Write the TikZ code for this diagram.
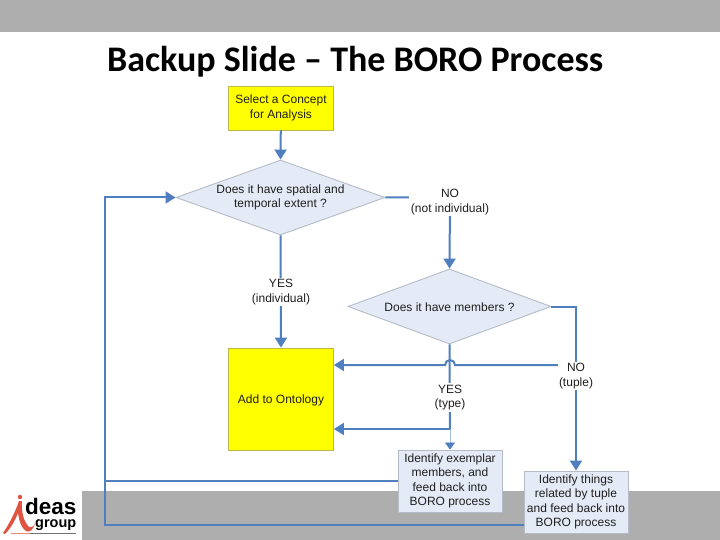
\documentclass[tikz,border=0pt]{standalone}
\usepackage{fontspec}
\setmainfont{Liberation Sans}
\newfontfamily\titlefont{Carlito}
\usetikzlibrary{arrows.meta,calc,shapes.geometric}
\definecolor{barg}{HTML}{AEAEAE}
\definecolor{flow}{HTML}{4F7FBF}
\definecolor{pale}{HTML}{E4EBF6}
\definecolor{edgeg}{HTML}{B4BCC8}
\definecolor{ybox}{HTML}{FFFF00}
\definecolor{yedge}{HTML}{BDB84A}
\definecolor{lred}{HTML}{D8361E}
\tikzset{
  x=1pt,y=-1pt,
  every node/.style={font=\fontsize{12}{14.4}\selectfont,align=center,text=black!88},
  lowered/.style={execute at begin node={\rule{0pt}{11pt}}},
  lowermore/.style={execute at begin node={\rule{0pt}{13.5pt}}},
  yellowbox/.style={draw=yedge,line width=.8pt,fill=ybox,inner sep=0pt},
  palebox/.style={draw=edgeg,line width=.9pt,fill=pale,inner sep=0pt},
  decision/.style={palebox,diamond,aspect=2.8,inner xsep=-6pt},
  link/.style={draw=flow,line width=2pt},
  linkarrow/.style={link,-{Triangle[length=10pt,width=12pt]}},
  lab/.style={fill=white,inner sep=1.5pt},
}
\begin{document}
\begin{tikzpicture}
\useasboundingbox (0,0) rectangle (720,540);
\fill[white] (0,0) rectangle (720,540);
\fill[barg] (0,0) rectangle (720,32);
\fill[barg] (82,491) rectangle (720,540);
\node[font=\titlefont\fontsize{36}{40}\selectfont\bfseries,text=black,anchor=base west,inner sep=0pt] (title) at (107,72) {Backup Slide – The BORO Process};
% nodes
\node[yellowbox,lowermore,minimum width=105pt,minimum height=44pt] (sel) at (281,108) {Select a Concept\\for Analysis};
\node[decision,lowermore,minimum width=209pt,minimum height=75pt] (d1) at (280.5,197.5) {Does it have spatial and\\temporal extent ?};
\node[decision,lowered,minimum width=203pt,minimum height=75pt] (d2) at (449.5,306.5) {Does it have members ?};
\node[yellowbox,lowered,minimum width=105pt,minimum height=102pt] (add) at (281,399) {Add to Ontology};
\node[palebox,lowermore,minimum width=104pt,minimum height=62pt] (ex) at (450,481) {Identify exemplar\\members, and\\feed back into\\BORO process};
\node[palebox,lowermore,minimum width=104pt,minimum height=62pt] (tup) at (576,502) {Identify things\\related by tuple\\and feed back into\\BORO process};
\coordinate (tupw) at (524,525);
\coordinate (fbc) at (105,525);
\coordinate (fba) at (105,481);
\coordinate (fbt) at (105,197.5);
\coordinate (noj) at (576,365);
\coordinate (nor) at (450,197.5);
\coordinate (d2r) at (576,306.5);
\coordinate (yj) at (450,429);
% connectors
\draw[linkarrow] (sel) -- (d1.north);
\draw[linkarrow] (d1.south) -- (add.north);
\draw[linkarrow] (d1.east) -- (nor) -- (d2.north);
\draw[linkarrow] (d2.east) -- (d2r) -- (tup.north);
\draw[linkarrow] (noj) -- (455,365) arc[start angle=0,end angle=180,radius=5pt] -- (add.east |- noj);
\draw[link] (d2.south) -- (yj);
\draw[linkarrow] (yj) -- (add.east |- yj);
\draw[draw=flow!50,line width=.8pt,-{Triangle[length=7pt,width=10pt,color=flow]}] (yj) -- (ex.north);
\draw[draw=flow,line width=1.3pt] (ex.west |- fba) -- (fba);
\draw[linkarrow] (tupw) -- (fbc) -- (fbt) -- (d1.west);
% labels
\node[lab] (l1) at (281,292) {YES\\(individual)};
\node[lab] (l2) at (450,202) {NO\\(not individual)};
\node[lab] (l3) at (576,376) {NO\\(tuple)};
\node[lab] (l4) at (450,397.5) {YES\\(type)};
% logo
\fill[white] (0,491) rectangle (82,540);
\fill[lred!85] (20,497) circle (2.2pt);
\fill[lred!85] (3,533) .. controls (10,523) and (16,510) .. (19,501) -- (22,501) .. controls (21,512) and (24,522) .. (29,527) .. controls (31,528) and (33,527) .. (35,524) .. controls (33,530) and (29,533) .. (26,531) .. controls (21,528) and (19,520) .. (18,513) .. controls (15,521) and (10,529) .. (5,534) -- cycle;
\node[font=\bfseries\fontsize{14.5}{13}\selectfont,text=black,align=right,anchor=south east,inner sep=0pt] (logotext) at (76.5,531) {{\fontsize{22.5}{13}\selectfont deas}\\group};
\fill[lred!60] (11,532.5) rectangle (30,534);
\fill[black!55] (30,532.5) rectangle (76,534);
\end{tikzpicture}
\end{document}
